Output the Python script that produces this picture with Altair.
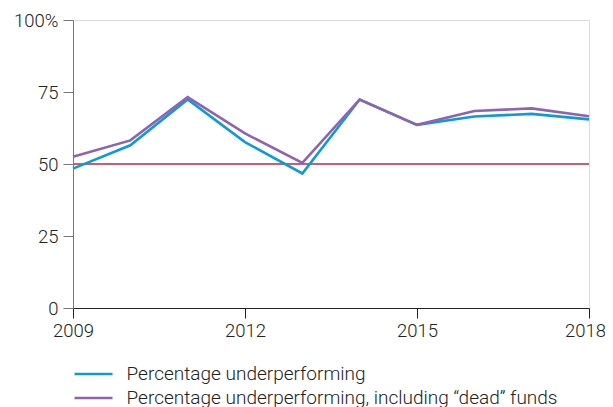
import altair as alt
import pandas as pd

years = [2009, 2010, 2011, 2012, 2013, 2014, 2015, 2016, 2017, 2018]
under = [48.4, 56.5, 72.4, 57.6, 46.7, 72.4, 63.6, 66.5, 67.4, 65.5]
under_dead = [52.5, 58.2, 73.2, 60.6, 50.4, 72.4, 63.6, 68.4, 69.3, 66.6]
s1 = "Percentage underperforming"
s2 = "Percentage underperforming, including \u201cdead\u201d funds"
threshold = [50]

df = pd.DataFrame(
    {"year": years * 2, "value": under + under_dead, "series": [s1] * 10 + [s2] * 10}
)
FONT = "Roboto"
FS = 18.5
FW = 300
TXT = "#222"

rule = alt.Chart(pd.DataFrame({"y": threshold})).mark_rule(
    color="#d05a6e", strokeWidth=2
).encode(y=alt.Y("y:Q"))

lines = alt.Chart(df).mark_line(strokeWidth=2.6).encode(
    x=alt.X(
        "year:Q",
        scale=alt.Scale(domain=[2009, 2018], nice=False, zero=False),
        axis=alt.Axis(
            values=[2009, 2012, 2015, 2018], format="d", title=None, grid=False,
            domainColor="#222", tickColor="#222", tickSize=10, labelPadding=3,
            labelFlush=False, labelOverlap=False,
            labelOffset={"condition": {"test": "datum.value == 2018", "value": -4}, "value": 0},
            labelFontSize=FS, labelFontWeight=FW, labelColor=TXT, labelFont=FONT,
        ),
    ),
    y=alt.Y(
        "value:Q",
        scale=alt.Scale(domain=[0, 100], nice=False),
        axis=alt.Axis(
            values=[0, 25, 50, 75, 100], title=None, grid=False,
            labelExpr="datum.value == 100 ? '100%' : (datum.value == 0 ? '0\u2007\u2007' : datum.label)",
            domainColor="#777", tickColor="#777", tickSize=10, labelPadding=5,
            labelFlush=False,
            labelFontSize=FS, labelFontWeight=FW, labelColor=TXT, labelFont=FONT,
        ),
    ),
    color=alt.Color(
        "series:N",
        scale=alt.Scale(domain=[s1, s2], range=["#0d9bd8", "#9063b0"]),
        legend=alt.Legend(
            title=None, orient="none", legendX=9.5, legendY=343,
            symbolType="M-2,0H2", symbolSize=361, symbolStrokeWidth=2.6,
            labelFontSize=19, labelFontWeight=FW, labelColor=TXT, labelFont=FONT,
            labelOffset=22, rowPadding=3, labelLimit=600,
        ),
    ),
)

chart = (
    alt.layer(rule, lines)
    .properties(
        width=516, height=288,
        autosize=alt.AutoSizeParams(type="none"),
        padding={"left": 65, "top": 12, "right": 16, "bottom": 99},
    )
    .configure_view(stroke=None)
    .configure(background="white")
)
chart.save("out.html", embed_options={"renderer": "svg", "actions": False})
